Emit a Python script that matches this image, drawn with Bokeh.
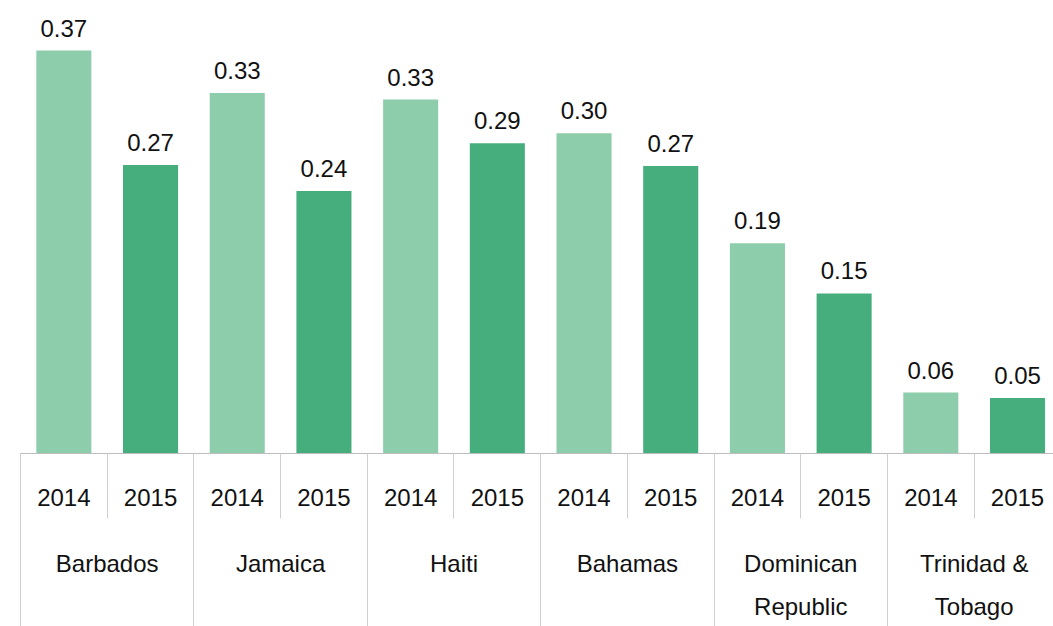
from bokeh.plotting import figure
from bokeh.models import Range1d, LinearAxis, FixedTicker, ColumnDataSource
from bokeh.core.properties import value
from bokeh.embed import file_html
from bokeh.resources import INLINE

countries = ["Barbados", "Jamaica", "Haiti", "Bahamas", "Dominican\nRepublic", "Trinidad &\nTobago"]
years = ["2014", "2015"]
values_2014 = [0.370, 0.331, 0.325, 0.294, 0.193, 0.056]
values_2015 = [0.265, 0.241, 0.285, 0.264, 0.147, 0.051]
labels_2014 = ["0.37", "0.33", "0.33", "0.30", "0.19", "0.06"]
labels_2015 = ["0.27", "0.24", "0.29", "0.27", "0.15", "0.05"]
year_colors = ["#8ECDAB", "#46AD7D"]

FONT = "Liberation Sans"

xs, tops, texts, cols = [], [], [], []
for i in range(len(countries)):
    for j, (vals, labs) in enumerate([(values_2014, labels_2014), (values_2015, labels_2015)]):
        xs.append(2 * i + j)
        tops.append(vals[i])
        texts.append(labs[i])
        cols.append(year_colors[j])

src = ColumnDataSource(dict(x=xs, top=tops, label=texts, color=cols))

n_slots = len(xs)
p = figure(width=1053, height=626,
           x_range=Range1d(-0.5, 11.415), y_range=Range1d(0, 0.416),
           output_backend="svg", toolbar_location=None,
           x_axis_location=None, y_axis_location=None,
           min_border_left=20, min_border_right=0, min_border_top=0, min_border_bottom=173)
p.extra_x_ranges = {"grp": Range1d(-0.5, 5.4575)}
p.xgrid.visible = False
p.ygrid.visible = False
p.outline_line_color = None
p.background_fill_color = "white"
p.border_fill_color = "white"

p.vbar(x="x", top="top", bottom=0, width=0.635, fill_color="color", line_color=None, source=src)
p.text(x="x", y="top", text="label", source=src, text_align="center", text_baseline="bottom",
       y_offset=-14, text_font=value(FONT), text_font_size="24px", text_color="#111111")

year_axis = LinearAxis(
    ticker=FixedTicker(ticks=list(range(n_slots)), minor_ticks=[k - 0.5 for k in range(n_slots + 1)]),
    major_label_overrides={k: years[k % 2] for k in range(n_slots)},
    major_tick_out=0, major_tick_in=0,
    minor_tick_out=65, minor_tick_in=0,
    minor_tick_line_color="#cfcfcf", minor_tick_line_width=1,
    axis_line_color="#bdbdbd", axis_line_width=1,
    major_label_standoff=-30,
    major_label_text_font=FONT, major_label_text_font_size="24px",
    major_label_text_color="#111111",
)
p.add_layout(year_axis, "below")

country_axis = LinearAxis(
    x_range_name="grp",
    ticker=FixedTicker(ticks=list(range(len(countries))), minor_ticks=[k - 0.5 for k in range(len(countries) + 1)]),
    major_label_overrides={k: countries[k] for k in range(len(countries))},
    major_tick_out=0, major_tick_in=0,
    minor_tick_out=130, minor_tick_in=0,
    minor_tick_line_color="#cfcfcf", minor_tick_line_width=1,
    axis_line_color=None,
    major_label_standoff=-89,
    major_label_text_font=FONT, major_label_text_font_size="24px",
    major_label_text_line_height=1.6,
    major_label_text_color="#111111",
)
p.add_layout(country_axis, "below")

open("out.html", "w").write(file_html(p, INLINE))
